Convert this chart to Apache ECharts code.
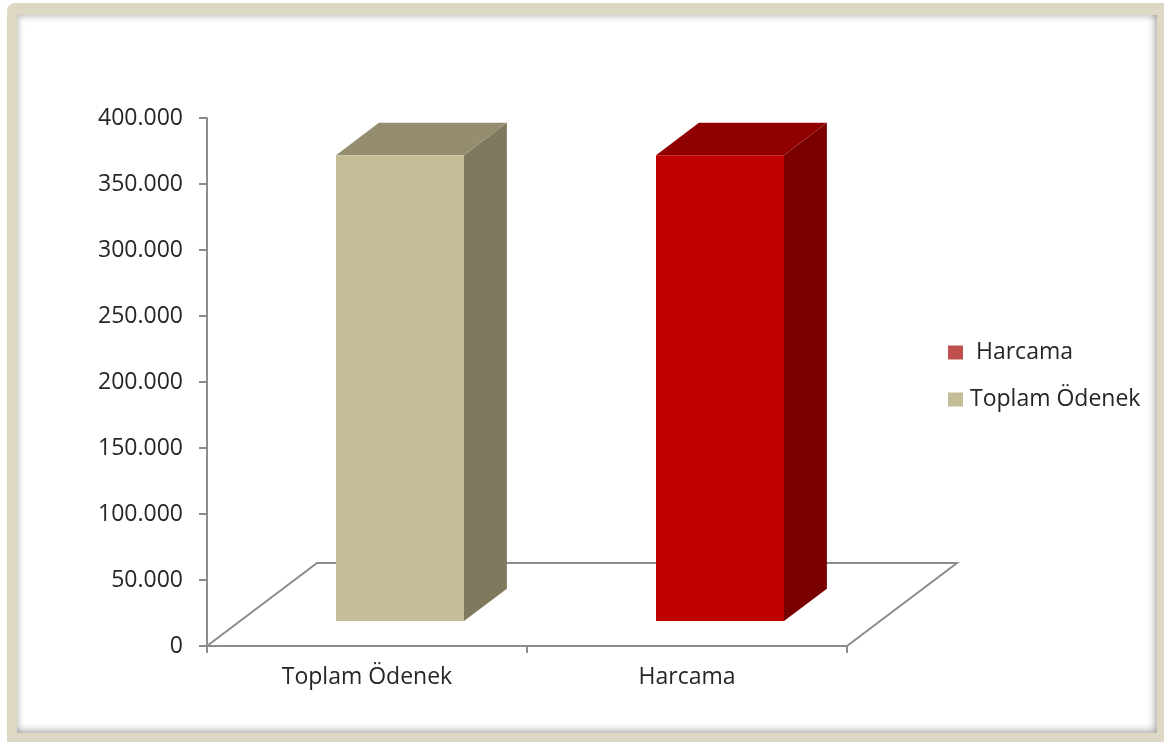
<!DOCTYPE html>
<html>
<head>
<meta charset="utf-8">
<script src="https://cdn.jsdelivr.net/npm/echarts@6/dist/echarts.min.js"></script>
<style>
  html, body { margin: 0; padding: 0; background: #ffffff; overflow: hidden; }
  .frame { position: absolute; left: 7px; top: 3px; width: 1170px; height: 760px;
           background: #ddd8c3; border-radius: 8px; }
  .panel { position: absolute; left: 17px; top: 15px; width: 1140px; height: 718px;
           background: #ffffff;
           box-shadow: inset 2px 2px 6px rgba(0,0,0,0.18), inset -3px -3px 7px rgba(0,0,0,0.28); }
  #chart { position: absolute; left: 0; top: 0; width: 1164px; height: 742px; }
</style>
</head>
<body>
<div class="frame"></div>
<div class="panel"></div>
<div id="chart"></div>
<script>
// Budget figures (TL)
const categories = ['Toplam Ödenek', 'Harcama'];
const values = [353000, 353000];
const legendNames = ['Harcama', 'Toplam Ödenek'];

// Face shading for each column: front, top, side
const faceColors = {
  'Toplam Ödenek': { front: '#c4bd97', top: '#948d6f', side: '#7f7a5d', legend: '#c4bd97' },
  'Harcama':       { front: '#c00000', top: '#900000', side: '#7a0000', legend: '#c0504d' }
};

// Oblique projection of the floor depth, in pixels
const DEPTH_X = 110;
const DEPTH_Y = 83;
const NEAR = 0.3;   // front face position within the depth
const FAR = 0.69;   // back face position within the depth

const fmt = v => String(v).replace(/\B(?=(\d{3})+(?!\d))/g, '.');
const FONT = '"Open Sans", sans-serif';
const TEXT = '#262626';

function renderFloor(params, api) {
  const cs = params.coordSys;
  const x = cs.x, y = cs.y + cs.height, w = cs.width;
  return {
    type: 'polyline',
    shape: { points: [[x, y], [x + DEPTH_X, y - DEPTH_Y], [x + w + DEPTH_X, y - DEPTH_Y], [x + w, y]] },
    style: { stroke: '#8c8c8c', lineWidth: 2, fill: null },
    silent: true
  };
}

function renderColumn(params, api) {
  const idx = api.value(0);
  const val = api.value(1);
  const base = api.coord([idx, 0]);
  const top = api.coord([idx, val]);
  const w = api.size([1, 0])[0] * 0.4;
  const nx = DEPTH_X * NEAR, ny = DEPTH_Y * NEAR;
  const dx = DEPTH_X * (FAR - NEAR), dy = DEPTH_Y * (FAR - NEAR);
  const x0 = base[0] - w / 2 + nx;
  const x1 = x0 + w;
  const yb = base[1] - ny;
  const yt = top[1] - ny;
  const c = faceColors[categories[idx]];
  return {
    type: 'group',
    children: [
      { type: 'polygon', shape: { points: [[x1, yb], [x1, yt], [x1 + dx, yt - dy], [x1 + dx, yb - dy]] },
        style: { fill: c.side } },
      { type: 'polygon', shape: { points: [[x0, yt], [x1, yt], [x1 + dx, yt - dy], [x0 + dx, yt - dy]] },
        style: { fill: c.top } },
      { type: 'rect', shape: { x: x0, y: yt, width: w, height: yb - yt },
        style: { fill: c.front } }
    ]
  };
}

const chart = echarts.init(document.getElementById('chart'), null, { renderer: 'canvas' });

const columnSeries = categories.map((name, i) => ({
  type: 'custom',
  name: name,
  renderItem: renderColumn,
  itemStyle: { color: faceColors[name].legend },
  data: [[i, values[i]]],
  encode: { x: 0, y: 1 },
  z: 3,
  silent: true
}));

chart.setOption({
  animation: false,
  backgroundColor: 'transparent',
  textStyle: { fontFamily: FONT },
  grid: { left: 207, right: 317, top: 118, bottom: 96, containLabel: false },
  legend: {
    orient: 'vertical',
    left: 943,
    top: 335,
    itemWidth: 15,
    itemHeight: 14,
    itemGap: 22,
    icon: 'rect',
    data: legendNames.map(n => ({ name: n, itemStyle: { color: faceColors[n].legend } })),
    formatter: n => (n === 'Harcama' ? ' ' + n : n),
    textStyle: { fontFamily: FONT, fontSize: 23, color: TEXT, lineHeight: 25, padding: [0, 0, 0, 2] }
  },
  xAxis: {
    type: 'category',
    data: categories,
    boundaryGap: true,
    axisLine: { show: true, lineStyle: { color: '#8c8c8c', width: 2 } },
    axisTick: { show: true, length: 7, lineStyle: { color: '#8c8c8c', width: 2 } },
    axisLabel: { fontFamily: FONT, fontSize: 23, color: TEXT, margin: 20 },
    splitLine: { show: false }
  },
  yAxis: {
    type: 'value',
    min: 0,
    max: 400000,
    interval: 50000,
    axisLine: { show: true, lineStyle: { color: '#8c8c8c', width: 2 } },
    axisTick: { show: true, length: 8, lineStyle: { color: '#8c8c8c', width: 2 } },
    axisLabel: { fontFamily: FONT, fontSize: 23, color: TEXT, margin: 24, formatter: fmt },
    splitLine: { show: false }
  },
  series: [
    { type: 'custom', name: 'floor', renderItem: renderFloor, data: [[0, 0]], z: 1, silent: true }
  ].concat(columnSeries)
});
</script>
</body>
</html>
